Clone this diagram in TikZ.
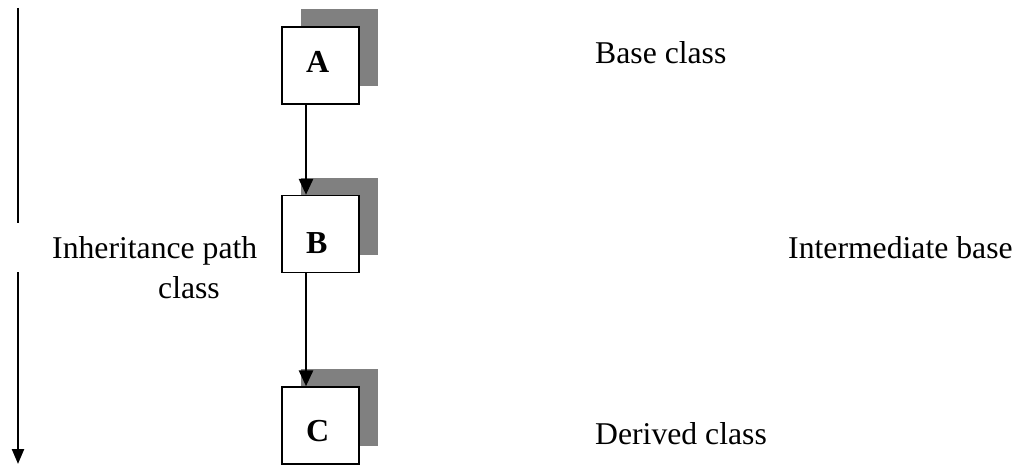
\documentclass[tikz,border=0pt]{standalone}
\usepackage{fontspec}
\setmainfont{Liberation Serif}
\usetikzlibrary{arrows.meta,shadows}
\definecolor{shadowgray}{HTML}{808080}
\begin{document}
\begin{tikzpicture}[x=1pt,y=-1pt,
  classbox/.style={draw=black,line width=1.4pt,fill=white,minimum width=77pt,minimum height=77pt,inner sep=0pt,
    drop shadow={shadow xshift=19pt,shadow yshift=18pt,fill=shadowgray,opacity=1}},
  boxlabel/.style={anchor=base west,inner sep=0pt,font=\fontsize{32}{38}\selectfont\bfseries},
  txt/.style={anchor=base west,inner sep=0pt,font=\fontsize{31.7}{38}\selectfont},
  inhArrow/.style={line width=2.8pt,-{Triangle[length=16pt,width=14pt]}},
  pathline/.style={line width=2.4pt}]
\useasboundingbox (0,0) rectangle (1016,465);
% boxes
\node[classbox] (A) at (320.5,65.5) {};
\node[classbox] (B) at (320.5,234) {};
\node[classbox] (C) at (320.5,425.5) {};
\node[boxlabel] (Al) at (306,73) {A};
\node[boxlabel] (Bl) at (306,253) {B};
\node[boxlabel] (Cl) at (306,441) {C};
% connectors
\draw[inhArrow] ([xshift=-14.5pt]A.south) -- ([xshift=-14.5pt]B.north);
\draw[inhArrow] ([xshift=-14.5pt]B.south) -- ([xshift=-14.5pt]C.north);
% left path arrow
\coordinate (p1) at (18,8);
\coordinate (p2) at (18,223);
\coordinate (p3) at (18,272);
\coordinate (p4) at (18,464);
\draw[pathline] (p1) -- (p2);
\draw[pathline,-{Triangle[length=15pt,width=12pt]}] (p3) -- (p4);
% texts
\node[txt] (base) at (595,64) {Base class};
\node[txt] (inter) at (788,258) {Intermediate base};
\node[txt] (derived) at (595,444) {Derived class};
\node[txt] (inh1) at (52,258) {Inheritance path};
\node[txt] (inh2) at (158,298) {class};
\end{tikzpicture}
\end{document}
